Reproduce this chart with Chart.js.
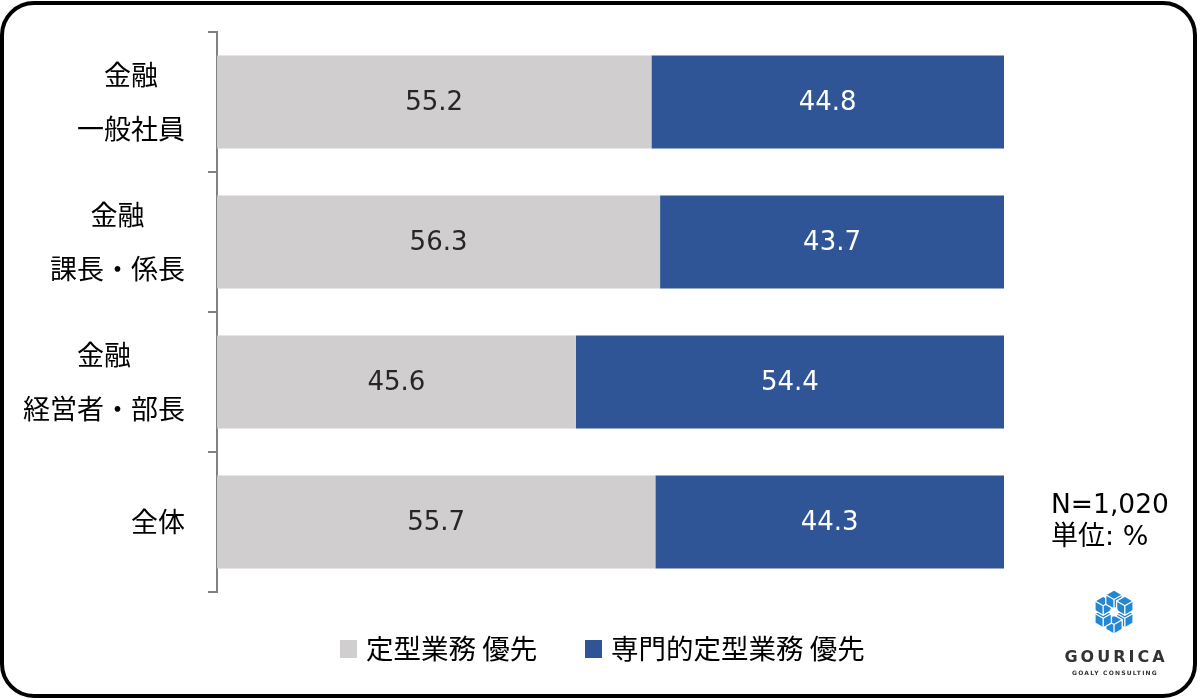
<!DOCTYPE html>
<html lang="ja">
<head>
<meta charset="utf-8">
<title>定型業務 vs 専門的定型業務</title>
<script src="https://cdn.jsdelivr.net/npm/chart.js@4.4.1/dist/chart.umd.min.js"></script>
<style>
    html, body {
        margin: 0;
        padding: 0;
        background: #ffffff;
    }
    #wrap {
        position: relative;
        width: 1200px;
        height: 699px;
        overflow: hidden;
    }
    #frame {
        position: absolute;
        left: 0;
        top: 1px;
        width: 1197px;
        height: 697px;
        box-sizing: border-box;
        border: 4px solid #000;
        border-radius: 34px;
        pointer-events: none;
    }
    canvas {
        position: absolute;
        left: 0;
        top: 0;
    }
</style>
</head>
<body>
<div id="wrap">
    <canvas id="chart" width="1200" height="699"></canvas>
    <div id="frame"></div>
</div>
<script>
// Data
const categories = [['金融', '一般社員'], ['金融', '課長・係長'], ['金融', '経営者・部長'], ['全体']];
const routineFirst = [55.2, 56.3, 45.6, 55.7];
const specialistFirst = [44.8, 43.7, 54.4, 44.3];
const seriesNames = ['定型業務 優先', '専門的定型業務 優先'];
const notes = ['N=1,020', '単位: %'];

const GRAY = '#D0CECE';
const BLUE = '#2F5597';
const CJK_FONT = '"Noto Sans CJK JP", "Noto Sans", sans-serif';
const NUM_FONT = '"DejaVu Sans", "Noto Sans CJK JP", sans-serif';

/**
 * Multi-line category labels: each block centred on itself, blocks right-aligned
 */
const categoryLabels = {
    id: 'categoryLabels',
    afterDraw(chart) {
        const ctx = chart.ctx;
        const yScale = chart.scales.y;
        const rightEdge = 185;
        const lineGap = 54;
        ctx.save();
        ctx.font = '27px ' + CJK_FONT;
        ctx.fillStyle = '#000';
        ctx.textAlign = 'center';
        ctx.textBaseline = 'middle';
        chart.data.labels.forEach((lines, i) => {
            const yc = yScale.getPixelForValue(i);
            const widest = Math.max(...lines.map(l => ctx.measureText(l).width));
            const xc = rightEdge - widest / 2;
            const first = yc - (lines.length - 1) * lineGap / 2;
            lines.forEach((line, k) => {
                ctx.fillText(line, xc, first + k * lineGap);
            });
        });
        ctx.restore();
    }
};

/**
 * Value labels in the middle of every bar segment
 */
const valueLabels = {
    id: 'valueLabels',
    afterDatasetsDraw(chart) {
        const ctx = chart.ctx;
        ctx.save();
        ctx.font = '26px ' + NUM_FONT;
        ctx.textAlign = 'center';
        ctx.textBaseline = 'middle';
        chart.data.datasets.forEach((ds, i) => {
            const meta = chart.getDatasetMeta(i);
            ctx.fillStyle = i === 0 ? '#262626' : '#ffffff';
            meta.data.forEach((bar, j) => {
                const x = (bar.x + bar.base) / 2;
                ctx.fillText(ds.data[j].toFixed(1), x, bar.y + 1);
            });
        });
        ctx.restore();
    }
};

/**
 * Legend, notes and logo
 */
const extras = {
    id: 'extras',
    afterDraw(chart) {
        const ctx = chart.ctx;
        ctx.save();

        // legend
        ctx.font = '27.5px ' + CJK_FONT;
        ctx.textBaseline = 'middle';
        ctx.textAlign = 'left';
        const legendX = [340, 585];
        chart.data.datasets.forEach((ds, i) => {
            ctx.fillStyle = ds.backgroundColor;
            ctx.fillRect(legendX[i], 640, 17, 18);
            ctx.fillStyle = '#000';
            ctx.fillText(ds.label, legendX[i] + 26, 649);
        });

        // notes
        ctx.font = '26.5px ' + NUM_FONT;
        ctx.fillStyle = '#000';
        ctx.fillText(notes[0], 1051, 506);
        ctx.font = '27px ' + NUM_FONT;
        ctx.fillText(notes[1], 1051, 538);

        // logo mark
        const cx = 1114, cy = 612;
        const dist = 12.5, rad = 9.5;
        ctx.fillStyle = '#2587D2';
        ctx.strokeStyle = '#ffffff';
        ctx.lineWidth = 1.3;
        for (let k = 0; k < 6; k++) {
            const a = Math.PI / 6 + k * Math.PI / 3;
            const hx = cx + Math.cos(a) * dist;
            const hy = cy + Math.sin(a) * dist;
            ctx.beginPath();
            for (let v = 0; v < 6; v++) {
                const b = -Math.PI / 2 + v * Math.PI / 3;
                const px = hx + Math.cos(b) * rad;
                const py = hy + Math.sin(b) * rad;
                if (v === 0) ctx.moveTo(px, py); else ctx.lineTo(px, py);
            }
            ctx.closePath();
            ctx.fill();
            ctx.stroke();
            // cube faces
            ctx.beginPath();
            ctx.moveTo(hx, hy);
            ctx.lineTo(hx, hy + rad);
            ctx.moveTo(hx, hy);
            ctx.lineTo(hx + Math.cos(-Math.PI / 6) * rad, hy + Math.sin(-Math.PI / 6) * rad);
            ctx.moveTo(hx, hy);
            ctx.lineTo(hx + Math.cos(-5 * Math.PI / 6) * rad, hy + Math.sin(-5 * Math.PI / 6) * rad);
            ctx.stroke();
        }
        ctx.fillStyle = '#ffffff';
        ctx.beginPath();
        ctx.arc(cx, cy, 4.5, 0, Math.PI * 2);
        ctx.fill();

        // logo text
        ctx.fillStyle = '#333333';
        ctx.textAlign = 'center';
        ctx.font = 'bold 16px "DejaVu Sans", sans-serif';
        ctx.letterSpacing = '3px';
        ctx.fillText('GOURICA', cx + 2, 658);
        ctx.font = 'bold 6px "DejaVu Sans", sans-serif';
        ctx.letterSpacing = '1.2px';
        ctx.fillText('GOALY CONSULTING', cx + 1, 673);
        ctx.restore();
    }
};

const chart = new Chart(document.getElementById('chart'), {
    type: 'bar',
    data: {
        labels: categories,
        datasets: [{
            label: seriesNames[0],
            data: routineFirst,
            backgroundColor: GRAY
        }, {
            label: seriesNames[1],
            data: specialistFirst,
            backgroundColor: BLUE
        }]
    },
    options: {
        indexAxis: 'y',
        responsive: false,
        animation: false,
        layout: {
            padding: { left: 208, right: 196, top: 32, bottom: 107 }
        },
        datasets: {
            bar: {
                barPercentage: 0.664,
                categoryPercentage: 1
            }
        },
        scales: {
            x: {
                display: false,
                stacked: true,
                min: 0,
                max: 100
            },
            y: {
                stacked: true,
                ticks: { display: false },
                grid: {
                    drawOnChartArea: false,
                    offset: true,
                    tickLength: 9,
                    color: '#808080',
                    lineWidth: 2
                },
                border: {
                    display: true,
                    color: '#808080',
                    width: 2
                }
            }
        },
        plugins: {
            legend: { display: false },
            tooltip: { enabled: false }
        }
    },
    plugins: [categoryLabels, valueLabels, extras]
});
</script>
</body>
</html>
